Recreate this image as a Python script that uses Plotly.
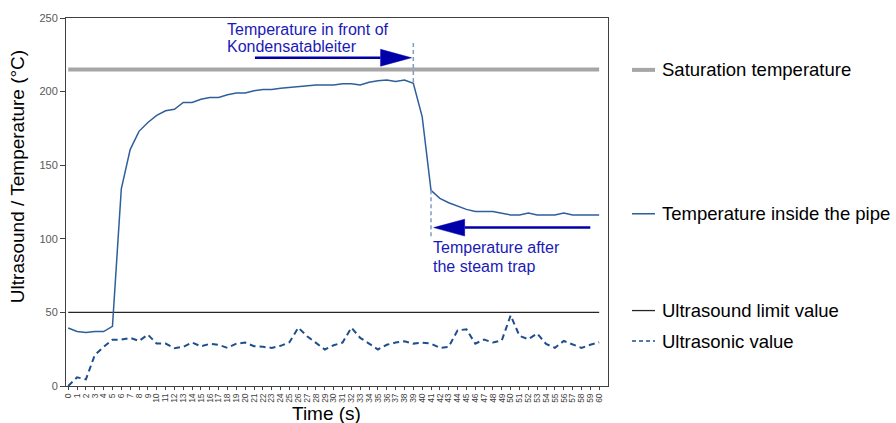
import plotly.graph_objects as go

# Time axis (s)
time_s = list(range(61))

# Temperature measured inside the pipe (°C)
temp_pipe = [39.4, 37.0, 36.3, 37.0, 37.0, 40.5, 134.0, 160.6, 173.0, 179.0,
             183.8, 187.0, 188.0, 192.6, 192.6, 194.8, 196.0, 196.0, 197.8, 199.0,
             199.0, 200.5, 201.4, 201.4, 202.2, 202.7, 203.6, 203.6, 204.5, 204.5,
             204.5, 205.4, 205.4, 204.5, 206.3, 207.4, 207.9, 206.8, 207.9, 205.6,
             183.0, 132.9, 127.5, 124.5, 122.3, 120.0, 118.5, 118.5, 118.5, 117.3,
             116.2, 116.2, 117.5, 116.2, 116.2, 116.2, 117.5, 116.2, 116.2, 116.2,
             116.2]

# Ultrasonic reading
ultrasonic = [0.0, 5.9, 4.5, 21.0, 26.6, 31.5, 31.5, 32.7, 30.6, 34.9,
              28.8, 28.8, 25.7, 26.6, 29.5, 27.0, 28.6, 28.0, 25.9, 28.8,
              29.5, 27.0, 26.6, 25.9, 27.3, 29.7, 39.6, 33.8, 29.3, 24.8,
              27.7, 29.5, 39.6, 32.7, 28.8, 24.8, 28.0, 29.5, 30.4, 28.8,
              29.5, 28.8, 25.9, 26.6, 37.8, 38.5, 28.8, 31.5, 29.5, 31.0,
              48.0, 34.0, 31.8, 35.6, 28.6, 25.9, 30.6, 28.0, 25.9, 28.0,
              29.7]

saturation_temp = 215
ultrasound_limit = 50

legend_labels = ["Saturation temperature", "Temperature inside the pipe",
                 "Ultrasound limit value", "Ultrasonic value"]

# Marker positions (time index) for valve inlet / outlet
t_before = 39
t_after = 41

FONT = "Liberation Sans, Arial, sans-serif"
C_PIPE = "#2F5F9B"
C_US = "#1F4E8C"
C_SAT = "#A6A6A6"
C_LIM = "#262626"
C_ARROW = "#0000AA"
C_NOTE = "#1A1AB8"
C_MARK = "#7F9CC4"

fig = go.Figure()

fig.add_trace(go.Scatter(x=time_s, y=[saturation_temp] * len(time_s), mode="lines",
                         line=dict(color=C_SAT, width=4), showlegend=False))
fig.add_trace(go.Scatter(x=time_s, y=[ultrasound_limit] * len(time_s), mode="lines",
                         line=dict(color=C_LIM, width=1.3), showlegend=False))
fig.add_trace(go.Scatter(x=time_s, y=temp_pipe, mode="lines",
                         line=dict(color=C_PIPE, width=1.5), showlegend=False))
fig.add_trace(go.Scatter(x=time_s, y=ultrasonic, mode="lines",
                         line=dict(color=C_US, width=2, dash="6px,4px"), showlegend=False))

# Dashed markers at the trap inlet / outlet
fig.add_shape(type="line", x0=t_before, x1=t_before, y0=233, y1=temp_pipe[t_before],
              xref="x", yref="y", line=dict(color=C_MARK, width=1.5, dash="4px,3px"))
fig.add_shape(type="line", x0=t_after, x1=t_after, y0=temp_pipe[t_after], y1=101,
              xref="x", yref="y", line=dict(color=C_MARK, width=1.5, dash="4px,3px"))

# Arrows: shaft + triangular head (data units)
px_x = 8.85   # pixels per second
px_y = 1.48   # pixels per degree
head_len = 31 / px_x
head_half = 8.5 / px_y


def arrow(x_tail, x_tip, y):
    d = 1 if x_tip > x_tail else -1
    x_base = x_tip - d * head_len
    fig.add_shape(type="line", x0=x_tail, x1=x_base, y0=y, y1=y, xref="x", yref="y",
                  line=dict(color=C_ARROW, width=2.5))
    fig.add_shape(type="path", xref="x", yref="y",
                  path=f"M {x_base},{y - head_half} L {x_tip},{y} L {x_base},{y + head_half} Z",
                  fillcolor=C_ARROW, line=dict(color=C_ARROW, width=0.5))


arrow(21.1, 38.8, 223.0)
arrow(59.0, 41.3, 107.6)

notes = [
    ("Temperature in front of", 17.7, 241.9),
    ("Kondensatableiter", 17.7, 230.4),
    ("Temperature after", 40.95, 94.1),
    ("the steam trap", 40.95, 81.3),
]
for txt, x, y in notes:
    fig.add_annotation(x=x, y=y, xref="x", yref="y", text=txt, showarrow=False,
                       xanchor="left", yanchor="middle",
                       font=dict(family=FONT, size=16, color=C_NOTE))

# Side legend
legend_rows = [
    (legend_labels[0], 0.859, dict(color=C_SAT, width=4)),
    (legend_labels[1], 0.468, dict(color=C_PIPE, width=1.5)),
    (legend_labels[2], 0.205, dict(color=C_LIM, width=1.3)),
    (legend_labels[3], 0.122, dict(color=C_US, width=1.5, dash="4px,3px")),
]
for label, yp, ln in legend_rows:
    fig.add_shape(type="line", xref="paper", yref="paper", x0=1.0443, x1=1.0867,
                  y0=yp, y1=yp, line=ln)
    fig.add_annotation(xref="paper", yref="paper", x=1.0960, y=yp, text=label,
                       showarrow=False, xanchor="left", yanchor="middle",
                       font=dict(family=FONT, size=18.5, color="#000000"))

# Axis titles
fig.add_annotation(xref="paper", yref="paper", x=0.4815, y=-0.076, text="Time (s)",
                   showarrow=False, xanchor="center", yanchor="middle",
                   font=dict(family=FONT, size=19, color="#000000"))
fig.add_annotation(xref="paper", yref="paper", x=-0.0904, y=0.5676,
                   text="Ultrasound / Temperature (°C)", textangle=-90,
                   showarrow=False, xanchor="center", yanchor="middle",
                   font=dict(family=FONT, size=19, color="#000000"))

fig.update_layout(
    width=896, height=423,
    margin=dict(l=66, r=288, t=16, b=37),
    paper_bgcolor="white", plot_bgcolor="white",
    font=dict(family=FONT),
    showlegend=False,
)
fig.update_xaxes(
    range=[-0.25, 61], tickmode="array", tickvals=time_s,
    ticktext=[str(t) for t in time_s], tickangle=-90,
    tickfont=dict(family=FONT, size=8.5, color="#404040"),
    ticks="outside", ticklen=3, tickcolor="#404040",
    showline=True, linecolor="#404040", linewidth=1, mirror=True,
    showgrid=False, zeroline=False,
)
fig.update_yaxes(
    range=[0, 250], tickvals=[0, 50, 100, 150, 200, 250],
    tickfont=dict(family=FONT, size=11, color="#595959"),
    ticks="outside", ticklen=5, tickcolor="#404040",
    showline=True, linecolor="#404040", linewidth=1, mirror=True,
    showgrid=False, zeroline=False,
)

fig.write_html("out.html")
